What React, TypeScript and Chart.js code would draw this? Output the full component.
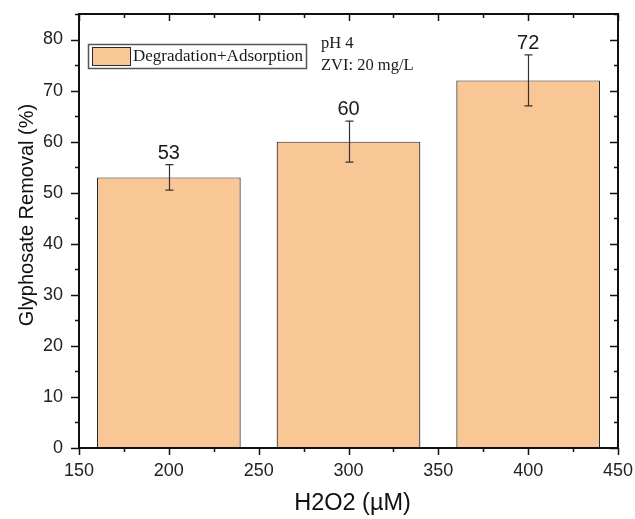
import React, { useEffect, useRef } from "react";
import { Chart, registerables } from "chart.js";

Chart.register(...registerables);

const concentrations = [200, 300, 400];
const removal = [53, 60, 72];
const errors = [2.5, 4, 5];
const valueLabels = ["53", "60", "72"];
const seriesName = "Degradation+Adsorption";
const noteLines = ["pH 4", "ZVI: 20 mg/L"];
const xTitle = "H2O2 (µM)";
const yTitle = "Glyphosate Removal (%)";

const BAR_FILL = "#F9C695";
const BAR_EDGE = "#2a2a2a";
const SANS = "Arial, 'Liberation Sans', sans-serif";
const SERIF = "'Times New Roman', 'Liberation Serif', serif";

const decorPlugin = {
  id: "decor",
  afterDatasetsDraw(chart: any) {
    const ctx = chart.ctx;
    const xs = chart.scales.x;
    const ys = chart.scales.y;
    ctx.save();
    ctx.strokeStyle = "#333";
    ctx.lineWidth = 1.2;
    concentrations.forEach((c, i) => {
      const px = Math.round(xs.getPixelForValue(c)) + 0.5;
      const top = ys.getPixelForValue(removal[i] + errors[i]);
      const bot = ys.getPixelForValue(removal[i] - errors[i]);
      ctx.beginPath();
      ctx.moveTo(px, top);
      ctx.lineTo(px, bot);
      ctx.moveTo(px - 4, top);
      ctx.lineTo(px + 4, top);
      ctx.moveTo(px - 4, bot);
      ctx.lineTo(px + 4, bot);
      ctx.stroke();
      ctx.fillStyle = "#1a1a1a";
      ctx.font = `20px ${SANS}`;
      ctx.textAlign = "center";
      ctx.textBaseline = "alphabetic";
      ctx.fillText(valueLabels[i], xs.getPixelForValue(c), top - 6);
    });
    ctx.restore();
  },
  afterDraw(chart: any) {
    const ctx = chart.ctx;
    const { left, right, top, bottom } = chart.chartArea;
    const xs = chart.scales.x;
    const ys = chart.scales.y;
    ctx.save();
    ctx.strokeStyle = "#111";
    ctx.lineWidth = 2;
    ctx.strokeRect(left, top, right - left, bottom - top);
    ctx.lineWidth = 1.5;
    ctx.beginPath();
    for (let v = 150; v <= 450; v += 25) {
      const px = Math.round(xs.getPixelForValue(v)) + 0.5;
      const major = v % 50 === 0;
      const len = major ? 7 : 4;
      ctx.moveTo(px, bottom);
      ctx.lineTo(px, bottom + len);
      ctx.moveTo(px, top);
      ctx.lineTo(px, top + len);
    }
    for (let v = 0; v <= 85; v += 5) {
      const py = Math.round(ys.getPixelForValue(v)) + 0.5;
      const major = v % 10 === 0;
      const len = major ? 8 : 4;
      ctx.moveTo(left, py);
      ctx.lineTo(left - len, py);
      ctx.moveTo(right, py);
      ctx.lineTo(right - len, py);
    }
    ctx.stroke();

    // axis titles
    ctx.fillStyle = "#111";
    ctx.textAlign = "center";
    ctx.textBaseline = "alphabetic";
    ctx.font = `23.5px ${SANS}`;
    ctx.fillText(xTitle, (left + right) / 2 + 4, 510);
    ctx.save();
    ctx.translate(32.5, (top + bottom) / 2 - 16);
    ctx.rotate(-Math.PI / 2);
    ctx.font = `20px ${SANS}`;
    ctx.fillText(yTitle, 0, 0);
    ctx.restore();

    // legend
    const lx = left + 9;
    const ly = top + 30;
    ctx.strokeStyle = "#555";
    ctx.lineWidth = 1.5;
    ctx.strokeRect(lx + 0.5, ly + 0.5, 218, 24);
    ctx.fillStyle = BAR_FILL;
    ctx.fillRect(lx + 4, ly + 3, 38, 18);
    ctx.strokeStyle = BAR_EDGE;
    ctx.lineWidth = 1;
    ctx.strokeRect(lx + 4.5, ly + 3.5, 38, 18);
    ctx.fillStyle = "#1a1a1a";
    ctx.font = `17px ${SERIF}`;
    ctx.textAlign = "left";
    ctx.textBaseline = "alphabetic";
    ctx.fillText(seriesName, lx + 45, ly + 17);

    // note
    ctx.font = `16.5px ${SERIF}`;
    ctx.fillText(noteLines[0], left + 242, top + 34);
    ctx.fillText(noteLines[1], left + 242, top + 56);
    ctx.restore();
  },
};

export default function App() {
  const ref = useRef<HTMLCanvasElement | null>(null);
  useEffect(() => {
    if (!ref.current) return;
    const chart = new Chart(ref.current, {
      type: "bar",
      data: {
        datasets: [
          {
            label: seriesName,
            data: concentrations.map((c, i) => ({ x: c, y: removal[i] })),
            backgroundColor: BAR_FILL,
            borderColor: BAR_EDGE,
            borderWidth: 1.2,
            categoryPercentage: 1,
            barPercentage: 1.6,
          },
        ],
      },
      options: {
        animation: false,
        responsive: true,
        maintainAspectRatio: false,
        layout: { padding: { top: 14, right: 17, left: 0, bottom: 0 } },
        plugins: { legend: { display: false }, tooltip: { enabled: false } },
        scales: {
          x: {
            type: "linear",
            min: 150,
            max: 450,
            offset: false,
            grid: { display: false, drawTicks: false, offset: false },
            border: { display: false },
            ticks: {
              stepSize: 50,
              padding: 12,
              color: "#222",
              font: { size: 18, family: SANS },
            },
            afterFit: (s: any) => {
              s.height = 71;
              s.paddingLeft = 0;
              s.paddingRight = 0;
            },
          },
          y: {
            min: 0,
            max: 85,
            grid: { display: false, drawTicks: false },
            border: { display: false },
            ticks: {
              stepSize: 10,
              padding: 16,
              color: "#222",
              font: { size: 18, family: SANS },
              callback: (v: any) => (v % 10 === 0 ? String(v) : ""),
            },
            afterFit: (s: any) => {
              s.width = 79;
              s.paddingTop = 0;
              s.paddingBottom = 0;
            },
          },
        },
      },
      plugins: [decorPlugin],
    } as any);
    return () => chart.destroy();
  }, []);
  return (
    <div style={{ position: "fixed", left: 0, top: 0, width: 635, height: 519, background: "#fff" }}>
      <canvas ref={ref} />
    </div>
  );
}
